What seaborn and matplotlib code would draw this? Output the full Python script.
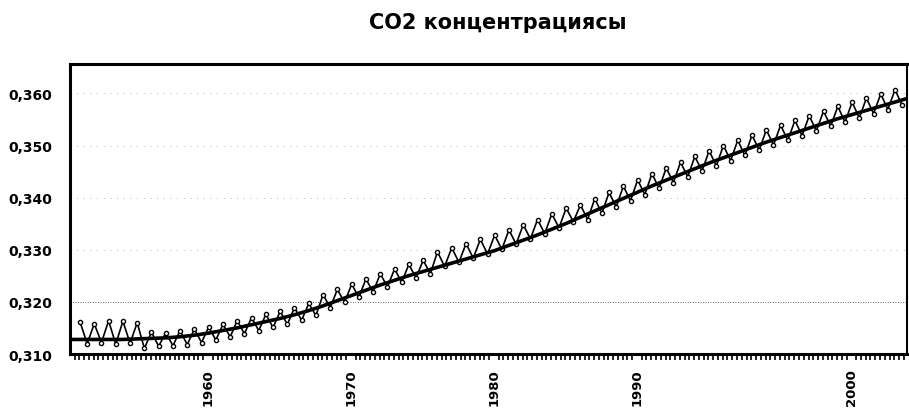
import matplotlib
matplotlib.use("Agg")
import matplotlib.pyplot as plt
import matplotlib.ticker as mticker
import seaborn as sns
import numpy as np
import pandas as pd

# yearly values (one seasonal peak and trough per year)
years = list(range(1951, 2009))

peaks = [0.3162, 0.3158, 0.3164, 0.3163, 0.3160, 0.3142, 0.3141, 0.3145, 0.3148, 0.3152,
         0.3157, 0.3164, 0.3170, 0.3176, 0.3182, 0.3189, 0.3197, 0.3214, 0.3224, 0.3234,
         0.3244, 0.3254, 0.3263, 0.3272, 0.3280, 0.3296, 0.3304, 0.3312, 0.3320, 0.3328,
         0.3338, 0.3348, 0.3358, 0.3369, 0.3380, 0.3386, 0.3398, 0.3410, 0.3422, 0.3434,
         0.3446, 0.3457, 0.3468, 0.3479, 0.3490, 0.3500, 0.3510, 0.3520, 0.3530, 0.3539,
         0.3548, 0.3557, 0.3566, 0.3575, 0.3583, 0.3591, 0.3599, 0.3607]

troughs = [0.3120, 0.3122, 0.3119, 0.3121, 0.3111, 0.3115, 0.3116, 0.3118, 0.3122, 0.3127,
           0.3133, 0.3139, 0.3145, 0.3151, 0.3157, 0.3165, 0.3174, 0.3189, 0.3199, 0.3209,
           0.3219, 0.3229, 0.3238, 0.3246, 0.3254, 0.3268, 0.3276, 0.3284, 0.3292, 0.3301,
           0.3311, 0.3321, 0.3331, 0.3342, 0.3354, 0.3358, 0.3370, 0.3382, 0.3394, 0.3406,
           0.3418, 0.3429, 0.3440, 0.3451, 0.3461, 0.3471, 0.3481, 0.3491, 0.3501, 0.3510,
           0.3519, 0.3528, 0.3537, 0.3545, 0.3553, 0.3561, 0.3569, 0.3577]

# smoothed trend, value at the start of each year
trend_years = list(range(1950, 2010))
trend = [0.3128, 0.3128, 0.3128, 0.3128, 0.3128, 0.3129, 0.3130, 0.3131, 0.3133, 0.3136,
         0.3140, 0.3145, 0.3150, 0.3156, 0.3162, 0.3168, 0.3175, 0.3183, 0.3192, 0.3202,
         0.3212, 0.3222, 0.3232, 0.3241, 0.3250, 0.3258, 0.3266, 0.3274, 0.3282, 0.3290,
         0.3298, 0.3308, 0.3318, 0.3328, 0.3339, 0.3350, 0.3362, 0.3374, 0.3386, 0.3398,
         0.3410, 0.3422, 0.3433, 0.3444, 0.3455, 0.3466, 0.3476, 0.3486, 0.3496, 0.3506,
         0.3515, 0.3524, 0.3533, 0.3542, 0.3551, 0.3559, 0.3567, 0.3575, 0.3583, 0.3591]

y_ticks = [0.310, 0.320, 0.330, 0.340, 0.350, 0.360]
y_labels = ["0,310", "0,320", "0,330", "0,340", "0,350", "0,360"]
x_tick_pos = [1960, 1970, 1980, 1990, 2005]
x_labels = ["1960", "1970", "1980", "1990", "2000"]

# seasonal series: peak early in the year, trough half a year later
seasonal = pd.DataFrame({
    "t": [y + 0.05 for y in years] + [y + 0.55 for y in years],
    "co2": peaks + troughs,
}).sort_values("t")
smooth = pd.DataFrame({"t": trend_years, "co2": trend})

sns.set_theme(style="white")
plt.rcParams["font.family"] = ["DejaVu Sans"]
plt.rcParams["text.color"] = "black"
plt.rcParams["xtick.color"] = "black"
plt.rcParams["ytick.color"] = "black"

fig = plt.figure(figsize=(9.09, 4.10), dpi=100)
ax = fig.add_axes([0.077, 0.134, 0.921, 0.707])

sns.lineplot(data=seasonal, x="t", y="co2", ax=ax, color="black", lw=1.2,
             marker="o", markersize=3.0, markerfacecolor="white",
             markeredgecolor="black", markeredgewidth=1.0, estimator=None)
sns.lineplot(data=smooth, x="t", y="co2", ax=ax, color="black", lw=2.6, estimator=None)

ax.set_xlim(1950.35, 2008.9)
ax.set_ylim(0.310, 0.3656)

ax.set_yticks(y_ticks)
ax.set_yticklabels(y_labels, fontsize=10, fontweight="bold")
ax.set_xticks(x_tick_pos)
ax.set_xticklabels(x_labels, rotation=90, fontsize=9.5, fontweight="bold")
ax.xaxis.set_minor_locator(mticker.MultipleLocator(1 / 3))
ax.tick_params(axis="x", which="major", length=0, pad=10)
ax.tick_params(axis="x", which="minor", length=4, width=1.2, color="black",
               direction="out", bottom=True)
ax.tick_params(axis="y", length=0, pad=13)

ax.set_xlabel("")
ax.set_ylabel("")

# faint dotted horizontal grid, 0,320 line a bit stronger like the scan
ax.grid(axis="y", linestyle=(0, (1, 7)), color="0.6", lw=0.6)
ax.grid(axis="x", visible=False)
ax.get_ygridlines()[1].set_color("0.2")
ax.get_ygridlines()[1].set_linestyle((0, (1, 2)))

for side in ["left", "top", "bottom", "right"]:
    ax.spines[side].set_visible(True)
    ax.spines[side].set_color("black")
    ax.spines[side].set_linewidth(2.2)
ax.spines["right"].set_linewidth(1.5)

fig.text(0.548, 0.944, "CO2 концентрациясы", ha="center", va="center",
         fontsize=15, fontweight="bold", color="black")

fig.savefig("out.png", dpi=100, facecolor="white")
